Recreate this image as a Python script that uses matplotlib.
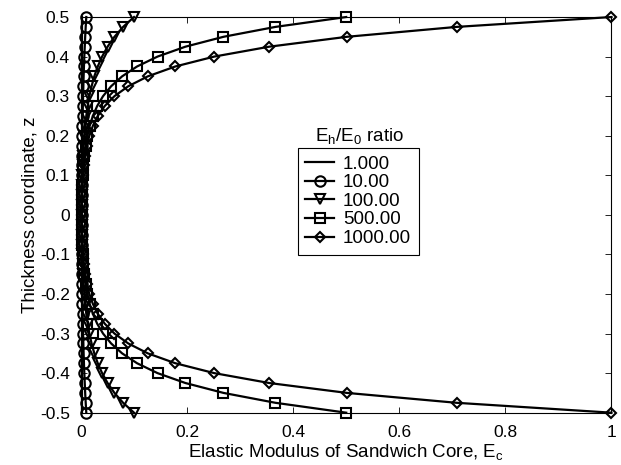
import numpy as np
import matplotlib.pyplot as plt

plt.rcParams['font.family'] = ['Liberation Sans', 'DejaVu Sans']
plt.rcParams['axes.unicode_minus'] = False
plt.rcParams['mathtext.default'] = 'regular'

# thickness coordinate from mid-plane (0) to face (0.5), step 0.025
z_half = [0.0, 0.025, 0.05, 0.075, 0.1, 0.125, 0.15, 0.175, 0.2, 0.225, 0.25,
          0.275, 0.3, 0.325, 0.35, 0.375, 0.4, 0.425, 0.45, 0.475, 0.5]

# core modulus at each z_half position, one list per Eh/E0 ratio
E_r1 = [0.001] * 21
E_r10 = [0.0010, 0.0011, 0.0013, 0.0014, 0.0016, 0.0018, 0.0020, 0.0022, 0.0025,
         0.0028, 0.0032, 0.0035, 0.0040, 0.0045, 0.0050, 0.0056, 0.0063, 0.0071,
         0.0079, 0.0089, 0.0100]
E_r100 = [0.0010, 0.0013, 0.0016, 0.0020, 0.0025, 0.0032, 0.0040, 0.0050, 0.0063,
          0.0079, 0.0100, 0.0126, 0.0158, 0.0200, 0.0251, 0.0316, 0.0398, 0.0501,
          0.0631, 0.0794, 0.1000]
E_r500 = [0.0010, 0.0014, 0.0019, 0.0025, 0.0035, 0.0047, 0.0065, 0.0088, 0.0120,
          0.0164, 0.0224, 0.0305, 0.0416, 0.0568, 0.0775, 0.1057, 0.1443, 0.1968,
          0.2686, 0.3665, 0.5000]
E_r1000 = [0.0010, 0.0014, 0.0020, 0.0028, 0.0040, 0.0056, 0.0079, 0.0112, 0.0158,
           0.0224, 0.0316, 0.0447, 0.0631, 0.0891, 0.1259, 0.1778, 0.2512, 0.3548,
           0.5012, 0.7079, 1.0000]

labels = ['1.000', '10.00', '100.00', '500.00', '1000.00']
series = [E_r1, E_r10, E_r100, E_r500, E_r1000]
markers = ['None', 'o', 'v', 's', 'D']
msizes = [0, 7.5, 7.5, 6.5, 5.5]


def full_profile(half):
    # core is symmetric about the mid-plane
    half = np.asarray(half)
    return np.concatenate([half[::-1], half[1:]])


z = np.concatenate([-np.asarray(z_half)[::-1], np.asarray(z_half)[1:]])

fig = plt.figure(figsize=(6.21, 4.65), dpi=100)
ax = fig.add_axes([0.1304, 0.1125, 0.8543, 0.8509])

handles = []
for E, lab, m, ms in zip(series, labels, markers, msizes):
    h, = ax.plot(full_profile(E), z, color='black', lw=1.6, marker=m, ms=ms,
                 mfc='none', mec='black', mew=1.5, label=lab, clip_on=False)
    handles.append(h)

ax.set_xlim(0, 1)
ax.set_ylim(-0.5, 0.5)
ax.set_xticks([0, 0.2, 0.4, 0.6, 0.8, 1])
ax.set_xticklabels(['0', '0.2', '0.4', '0.6', '0.8', '1'])
ax.set_yticks(np.round(np.arange(-0.5, 0.51, 0.1), 1))
ax.set_yticklabels(['-0.5', '-0.4', '-0.3', '-0.2', '-0.1', '0',
                    '0.1', '0.2', '0.3', '0.4', '0.5'])
ax.tick_params(direction='in', top=True, right=True, length=4, width=0.6,
               labelsize=12.5)
ax.tick_params(axis='x', pad=9)
ax.tick_params(axis='y', pad=8)
for s in ax.spines.values():
    s.set_linewidth(0.8)

ax.set_xlabel('Elastic Modulus of Sandwich Core, E$_c$', fontsize=13.5, labelpad=1.5)
ax.set_ylabel('Thickness coordinate, z', fontsize=13.5, labelpad=1)

leg = ax.legend(handles=handles, loc='upper left', bbox_to_anchor=(0.409, 0.669),
                borderaxespad=0, fancybox=False, edgecolor='black', framealpha=1,
                fontsize=13.5, handlelength=1.5, handletextpad=0.5,
                labelspacing=0.08, borderpad=0.4)
leg.get_frame().set_linewidth(0.8)
ax.text(0.525, 0.675, 'E$_h$/E$_0$ ratio', transform=ax.transAxes,
        ha='center', va='bottom', fontsize=13.5)

fig.savefig('out.png', dpi=100)
